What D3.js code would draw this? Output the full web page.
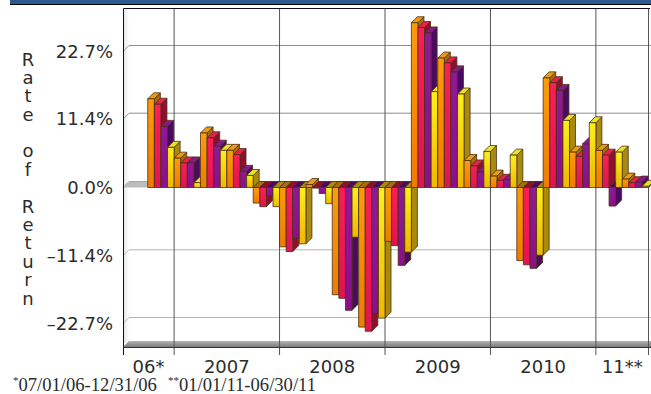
<!DOCTYPE html>
<html>
<head>
<meta charset="utf-8">
<script src="https://cdn.jsdelivr.net/npm/d3@7"></script>
<style>
  html, body { margin: 0; padding: 0; background: #fff; overflow: hidden; }
  text { font-family: "DejaVu Sans", sans-serif; fill: #2c2c2c; }
</style>
</head>
<body>
<svg id="chart" width="651" height="394"></svg>
<script>
// quarters on the x axis, the first one has no bars
var quarters = ["06Q3","06Q4","07Q1","07Q2","07Q3","07Q4","08Q1","08Q2","08Q3","08Q4",
                "09Q1","09Q2","09Q3","09Q4","10Q1","10Q2","10Q3","10Q4","11Q1","11Q2"];

// four unnamed series, % per quarter
var series1 = [null, 14.8, 4.9, 9.1, 6.2, -2.6, -9.9, 0.5, -17.9, -23.3, -9.0, 27.5, 21.6, 4.5, 1.9, -12.2, 18.3, 5.9, 6.2, 1.4];
var series2 = [null, 13.9, 4.1, 8.3, 5.5, -3.2, -10.7, -0.1, -18.5, -24.0, -9.7, 26.7, 20.8, 3.6, 1.2, -12.9, 17.5, 5.2, 5.4, 0.8];
var series3 = [null, 10.2, 4.1, 6.9, 2.7, -1.4, -8.5, -1.0, -20.5, -21.0, -13.0, 25.8, 19.3, 2.6, 1.3, -13.5, 16.2, 7.3, -3.1, 0.9];
var series4 = [null, 6.7, 0.8, 6.2, 2.0, -3.2, -9.4, -2.7, -8.3, -21.8, -10.8, 16.0, 15.6, 6.0, 5.4, -11.3, 11.2, 10.8, 5.9, 0.2];
var allSeries = [series1, series2, series3, series4];

var yTicks = [-22.7, -11.4, 0, 11.4, 22.7];
var yearLabels = ["06*", "2007", "2008", "2009", "2010", "11**"];
var yearStarts = [0, 2, 6, 10, 14, 18];   // index into quarters
var yTitle = "Rate of Return";

// colours per series: gradient top, gradient bottom, top face, side face
var faceTop  = ["#fb9c0c", "#fb1f55", "#8f1a96", "#fdf01c"];
var faceBot  = ["#ee7c00", "#e01452", "#8a1088", "#eeb800"];
var capCol   = ["#eb9c12", "#e8204f", "#861a8c", "#ece222"];
var sideCol  = ["#a86c08", "#8e0f2e", "#4a0a5e", "#a98a0e"];
var edgeCol  = "#4a3014";

var depth = 6;   // how far the 3d back wall is shifted

var svg = d3.select("#chart");

var x0 = d3.scaleBand().domain(quarters).range([121.4, 648.6]);
var x1 = d3.scaleBand().domain([0, 1, 2, 3]).range([0, x0.bandwidth()]);
var y = d3.scaleLinear().domain([-22.7, 22.7]).range([323.5, 51.5]);

var defs = svg.append("defs");
allSeries.forEach(function(s, i)
{
    var g = defs.append("linearGradient").attr("id", "bar" + i)
        .attr("x1", 0).attr("y1", 0).attr("x2", 0).attr("y2", 1);
    g.append("stop").attr("offset", 0).attr("stop-color", faceTop[i]);
    g.append("stop").attr("offset", 1).attr("stop-color", faceBot[i]);
});
var wall = defs.append("linearGradient").attr("id", "wall");
wall.append("stop").attr("offset", 0).attr("stop-color", "#e2e2e2");
wall.append("stop").attr("offset", 1).attr("stop-color", "#ffffff");
var floorG = defs.append("linearGradient").attr("id", "floor")
    .attr("x1", 0).attr("y1", 0).attr("x2", 0).attr("y2", 1);
floorG.append("stop").attr("offset", 0).attr("stop-color", "#b4b4b4");
floorG.append("stop").attr("offset", 1).attr("stop-color", "#7c7c7c");

// header strip
svg.append("rect").attr("x", 10).attr("y", 0).attr("width", 641).attr("height", 4).attr("fill", "#2c5a8f");
svg.append("rect").attr("x", 10).attr("y", 4).attr("width", 641).attr("height", 1).attr("fill", "#000");

// left wall and floor of the 3d box
svg.append("rect").attr("x", 123).attr("y", 8).attr("width", depth).attr("height", 335).attr("fill", "url(#wall)");
svg.append("path").attr("fill", "url(#floor)")
    .attr("d", "M123,347L129,341L651,341L651,347Z");

// back wall grid lines, with the little slanted link to the tick
svg.selectAll(".grid").data(yTicks).enter().append("path")
    .attr("class", "grid")
    .attr("fill", "none")
    .attr("stroke", function(d) { return d < 0 ? "#b4b4b4" : "#8f8f8f"; })
    .attr("stroke-width", 1)
    .attr("d", function(d)
    {
        return "M123," + y(d) + "L129," + (y(d) - depth) + "L651," + (y(d) - depth);
    });

// the gray band at zero on the left, before the first bars
svg.append("path").attr("fill", "#bdbdbd")
    .attr("d", "M123," + y(0) + "L129," + (y(0) - depth) + "L150," + (y(0) - depth) + "L150," + y(0) + "Z");

// year dividers
yearStarts.slice(1).forEach(function(q)
{
    svg.append("line")
        .attr("x1", x0(quarters[q])).attr("x2", x0(quarters[q]))
        .attr("y1", 8).attr("y2", 355)
        .attr("stroke", "#555").attr("stroke-width", 1);
});
svg.append("line").attr("x1", 648.5).attr("x2", 648.5).attr("y1", 8).attr("y2", 355).attr("stroke", "#555");

// frame
svg.append("path").attr("fill", "none").attr("stroke", "#111").attr("stroke-width", 1)
    .attr("d", "M650,8.5L123.5,8.5L123.5,355");
svg.append("line").attr("x1", 123).attr("x2", 651).attr("y1", 347.5).attr("y2", 347.5).attr("stroke", "#333");

// bars, left to right so each one covers the side of the one before
var bars = [];
quarters.forEach(function(q, qi)
{
    allSeries.forEach(function(s, si)
    {
        if (s[qi] !== null)
            bars.push({ q: q, s: si, v: s[qi] });
    });
});

var bar = svg.selectAll(".bar").data(bars).enter().append("g").attr("class", "bar")
    .attr("stroke", edgeCol).attr("stroke-width", 0.8).attr("stroke-linejoin", "round");

// side face
bar.append("path")
    .attr("fill", function(d) { return sideCol[d.s]; })
    .attr("d", function(d)
    {
        var xr = x0(d.q) + x1(d.s) + x1.bandwidth();
        var y1 = Math.min(y(d.v), y(0));
        var y2 = Math.max(y(d.v), y(0));
        return "M" + xr + "," + y1 + "l" + depth + "," + (-depth) + "L" + (xr + depth) + "," + (y2 - depth) + "L" + xr + "," + y2 + "Z";
    });

// top face
bar.append("path")
    .attr("fill", function(d) { return d.v < 0 ? sideCol[d.s] : capCol[d.s]; })
    .attr("d", function(d)
    {
        var xl = x0(d.q) + x1(d.s);
        var yt = Math.min(y(d.v), y(0));
        return "M" + xl + "," + yt + "l" + depth + "," + (-depth) + "l" + x1.bandwidth() + ",0l" + (-depth) + "," + depth + "Z";
    });

// front face
bar.append("rect")
    .attr("x", function(d) { return x0(d.q) + x1(d.s); })
    .attr("y", function(d) { return Math.min(y(d.v), y(0)); })
    .attr("width", x1.bandwidth())
    .attr("height", function(d) { return Math.abs(y(d.v) - y(0)); })
    .attr("fill", function(d) { return "url(#bar" + d.s + ")"; });

// y axis labels
var yAxis = d3.axisLeft(y).tickValues(yTicks).tickSize(0).tickPadding(10)
    .tickFormat(function(d) { return d3.format(".1f")(Math.abs(d)) + "%"; });
var yg = svg.append("g").attr("transform", "translate(123,0)").call(yAxis);
yg.select(".domain").remove();
yg.selectAll("text")
    .text(function(d) { return (d < 0 ? "\u2013" : "") + d3.format(".1f")(Math.abs(d)) + "%"; })
    .style("font-size", "18px").style("font-family", "'DejaVu Sans'").style("fill", "#2c2c2c");

// y axis title, one letter under the other, all in one text
var titleY = d3.scalePoint().domain(d3.range(yTitle.length)).range([59, 298]);
svg.append("text")
    .attr("text-anchor", "middle")
    .style("font-size", "18px")
    .selectAll("tspan").data(yTitle.split("")).enter().append("tspan")
    .attr("x", 28)
    .attr("y", function(d, i) { return titleY(i) + 6.5; })
    .text(function(d) { return d; });

// year labels, centred between their dividers
svg.selectAll(".year").data(yearLabels).enter().append("text")
    .attr("class", "year")
    .attr("x", function(d, i)
    {
        var a = x0(quarters[yearStarts[i]]);
        var b = i < yearStarts.length - 1 ? x0(quarters[yearStarts[i + 1]]) : x0.range()[1];
        return (Math.max(a, 123) + b) / 2;
    })
    .attr("y", 373)
    .attr("text-anchor", "middle")
    .style("font-size", "18px")
    .text(function(d) { return d; });

// footnote
var note = svg.append("text").attr("x", 13).attr("y", 391).style("font-size", "18.6px")
    .style("font-family", "'Liberation Serif', serif");
note.append("tspan").attr("dy", -7).style("font-size", "11px").text("*");
note.append("tspan").attr("dy", 7).text("07/01/06-12/31/06");
note.append("tspan").attr("dx", 11).attr("dy", -7).style("font-size", "11px").text("**");
note.append("tspan").attr("dy", 7).text("01/01/11-06/30/11");
</script>
</body>
</html>
